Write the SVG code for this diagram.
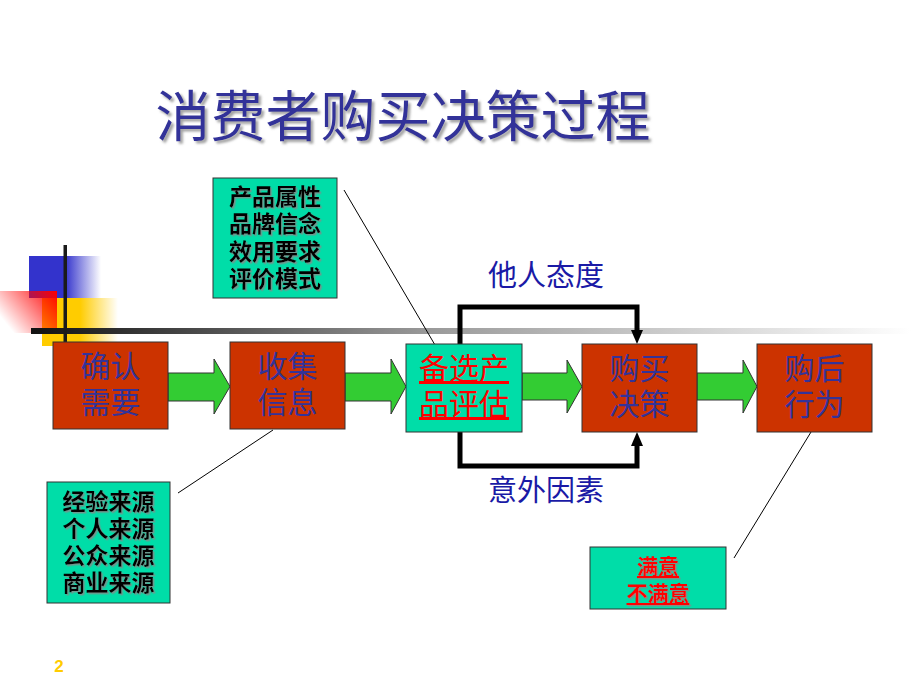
<svg xmlns="http://www.w3.org/2000/svg" width="920" height="690" viewBox="0 0 920 690">
<defs>
<linearGradient id="gBlue" x1="0" y1="0" x2="1" y2="0"><stop offset="0" stop-color="#3333CC"/><stop offset="0.5" stop-color="#3333CC"/><stop offset="1" stop-color="#3333CC" stop-opacity="0"/></linearGradient>
<linearGradient id="gYel" x1="0" y1="0" x2="1" y2="0"><stop offset="0" stop-color="#FFCC00"/><stop offset="0.5" stop-color="#FFCC00"/><stop offset="1" stop-color="#FFCC00" stop-opacity="0"/></linearGradient>
<linearGradient id="gRed" x1="1" y1="0" x2="0" y2="0.6"><stop offset="0" stop-color="#FF0000"/><stop offset="1" stop-color="#FF0000" stop-opacity="0"/></linearGradient>
<linearGradient id="gBar" x1="0" y1="0" x2="1" y2="0"><stop offset="0" stop-color="#111111"/><stop offset="0.45" stop-color="#999999"/><stop offset="1" stop-color="#FFFFFF"/></linearGradient>
<filter id="sh" x="-10%" y="-10%" width="130%" height="140%"><feDropShadow dx="2.5" dy="2.5" stdDeviation="0.8" flood-color="#999999" flood-opacity="0.9"/></filter>
<filter id="sh2" x="-10%" y="-10%" width="130%" height="140%"><feDropShadow dx="1.5" dy="1.5" stdDeviation="0.6" flood-color="#888888" flood-opacity="0.8"/></filter>
</defs>
<style>
.box{stroke:#333333;stroke-width:1}
.red{fill:#CC3300}
.teal{fill:#00DDA8}
.bt{font-family:"Noto Sans CJK SC",sans-serif;font-size:30px;fill:#333399;text-anchor:middle}
.rt{font-family:"Noto Sans CJK SC",sans-serif;font-size:30px;fill:#FF0000;text-anchor:middle;text-decoration:underline}
.ct{font-family:"Noto Sans CJK SC",sans-serif;font-size:23px;font-weight:bold;fill:#000;text-anchor:middle}
.lt{font-family:"Noto Sans CJK SC",sans-serif;font-size:29px;fill:#1A1AA6;text-anchor:middle}
.ga{fill:#33CC33;stroke:#333333;stroke-width:1}
.lead{stroke:#000;stroke-width:1;fill:none}
.flow{stroke:#000;stroke-width:5;fill:none;stroke-linejoin:miter}
</style>
<g id="decoration">
<rect x="29" y="256" width="72" height="42" fill="url(#gBlue)"/>
<rect x="42" y="298" width="76" height="48" fill="url(#gYel)"/>
<rect x="0" y="291" width="57" height="42" fill="url(#gRed)"/>
<rect x="31" y="328" width="880" height="6" fill="url(#gBar)"/>
<rect x="63.5" y="245" width="3.5" height="97" fill="#1a1a1a"/>
</g>
<text id="title" x="403" y="136" font-family="Noto Sans CJK SC,sans-serif" font-size="55" fill="#333399" text-anchor="middle" filter="url(#sh)">消费者购买决策过程</text>
<g id="connectors">
<polygon class="ga" points="168,373 214,373 214,359 230,386.5 214,414 214,401 168,401"/>
<polygon class="ga" points="345,373 391,373 391,359 406,386.5 391,414 391,401 345,401"/>
<polygon class="ga" points="522,373 567,373 567,360 582,386.5 567,413 567,400 522,400"/>
<polygon class="ga" points="697,373 743,373 743,360 757,386.5 743,413 743,400 697,400"/>
<polyline class="flow" points="460,344 460,307 637,307 637,332"/>
<polygon points="631,330 643,330 637,344" fill="#000"/>
<polyline class="flow" points="460,432 460,466 637,466 637,444"/>
<polygon points="631,446 643,446 637,432" fill="#000"/>
<line class="lead" x1="344" y1="190" x2="435" y2="345"/>
<line class="lead" x1="178" y1="493" x2="273" y2="430"/>
<line class="lead" x1="734" y1="558" x2="811" y2="432"/>
</g>
<g id="n1"><rect class="box red" x="53" y="342" width="115" height="87"/><text class="bt" x="110.5" y="377">确认</text><text class="bt" x="110.5" y="413">需要</text></g>
<g id="n2"><rect class="box red" x="230" y="342" width="115" height="87"/><text class="bt" x="287.5" y="377">收集</text><text class="bt" x="287.5" y="413">信息</text></g>
<g id="n3"><rect class="box teal" x="406" y="344" width="116" height="88"/><text class="rt" x="464" y="379">备选产</text><text class="rt" x="464" y="415">品评估</text></g>
<g id="n4"><rect class="box red" x="582" y="344" width="115" height="88"/><text class="bt" x="639.5" y="379">购买</text><text class="bt" x="639.5" y="415">决策</text></g>
<g id="n5"><rect class="box red" x="757" y="344" width="115" height="88"/><text class="bt" x="814.5" y="379">购后</text><text class="bt" x="814.5" y="415">行为</text></g>
<g id="lbl-top"><text class="lt" x="546" y="286">他人态度</text></g>
<g id="lbl-bot"><text class="lt" x="546" y="501">意外因素</text></g>
<g id="c1"><rect class="box teal" x="213" y="178" width="124" height="120"/>
<g filter="url(#sh2)"><text class="ct" x="275" y="205">产品属性</text><text class="ct" x="275" y="232">品牌信念</text><text class="ct" x="275" y="260">效用要求</text><text class="ct" x="275" y="287">评价模式</text></g></g>
<g id="c2"><rect class="box teal" x="47" y="482" width="123" height="121"/>
<g filter="url(#sh2)"><text class="ct" x="108.5" y="510">经验来源</text><text class="ct" x="108.5" y="537">个人来源</text><text class="ct" x="108.5" y="564">公众来源</text><text class="ct" x="108.5" y="591">商业来源</text></g></g>
<g id="c3"><rect class="box teal" x="590" y="547" width="136" height="62"/>
<g filter="url(#sh2)"><text class="ct" x="658" y="574" style="fill:#FF0000;font-size:21px;text-decoration:underline">满意</text><text class="ct" x="658" y="601" style="fill:#FF0000;font-size:21px;text-decoration:underline">不满意</text></g></g>
<text id="page" x="59" y="672" font-family="Liberation Sans,sans-serif" font-size="17" font-weight="bold" fill="#FFCC00" text-anchor="middle">2</text>
</svg>
